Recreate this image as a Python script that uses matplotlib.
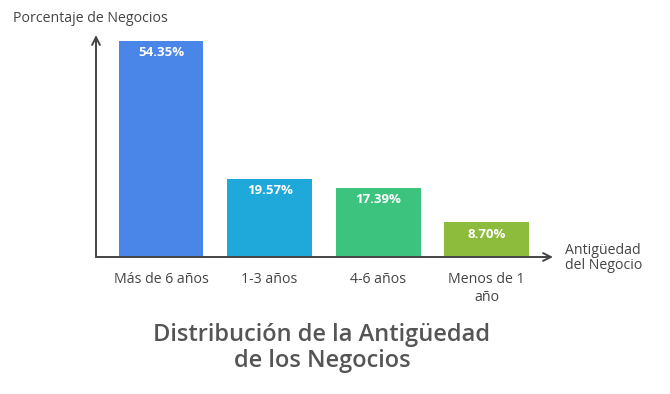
import matplotlib.pyplot as plt

categories = ['Más de 6 años', '1-3 años', '4-6 años', 'Menos de 1\naño']
percentages = [54.35, 19.57, 17.39, 8.70]
bar_colors = ['#4A86E8', '#1FA9DB', '#3CC47F', '#8DBB3B']

plt.rcParams['font.family'] = ['Open Sans', 'DejaVu Sans']

fig = plt.figure(figsize=(6.7, 3.94), dpi=100)
# axes box: left edge at the y axis, bottom edge at the x axis
ax = fig.add_axes([96 / 670, 137 / 394, 457 / 670, 222 / 394])

x = range(len(categories))
bars = ax.bar(x, percentages, width=0.78, color=bar_colors)
ax.set_xlim(-0.6, 3.61)
ax.set_ylim(0, 55.9)

for b, v in zip(bars, percentages):
    ax.text(b.get_x() + b.get_width() / 2, v - 1.3, f'{v:.2f}%',
            ha='center', va='top', color='white', fontsize=9.5, fontweight='bold')

for s in ax.spines.values():
    s.set_visible(False)
ax.set_xticks(list(x))
ax.set_xticklabels(categories, fontsize=10.2, color='#444444', linespacing=1.25)
ax.tick_params(axis='x', length=0, pad=11)
ax.set_yticks([])

arrow = dict(arrowstyle='->', color='#444444', lw=1.4, mutation_scale=14,
             shrinkA=0, shrinkB=0)
ax.annotate('', xy=(0, 1), xytext=(0, 0), xycoords='axes fraction',
            arrowprops=arrow)
ax.annotate('', xy=(1, 0), xytext=(0, 0), xycoords='axes fraction',
            arrowprops=arrow)

fig.text(13 / 670, 1 - 18 / 394, 'Porcentaje de Negocios', ha='left',
         va='center', fontsize=10.2, color='#444444')
fig.text(565 / 670, 1 - 258 / 394, 'Antigüedad\ndel Negocio', ha='left',
         va='center', fontsize=10.2, color='#444444', linespacing=1.0)
fig.text(322 / 670, 1 - 348 / 394, 'Distribución de la Antigüedad\nde los Negocios',
         ha='center', va='center', fontsize=17, color='#555555',
         fontweight='semibold', linespacing=1.1)

fig.savefig('out.png', dpi=100)
